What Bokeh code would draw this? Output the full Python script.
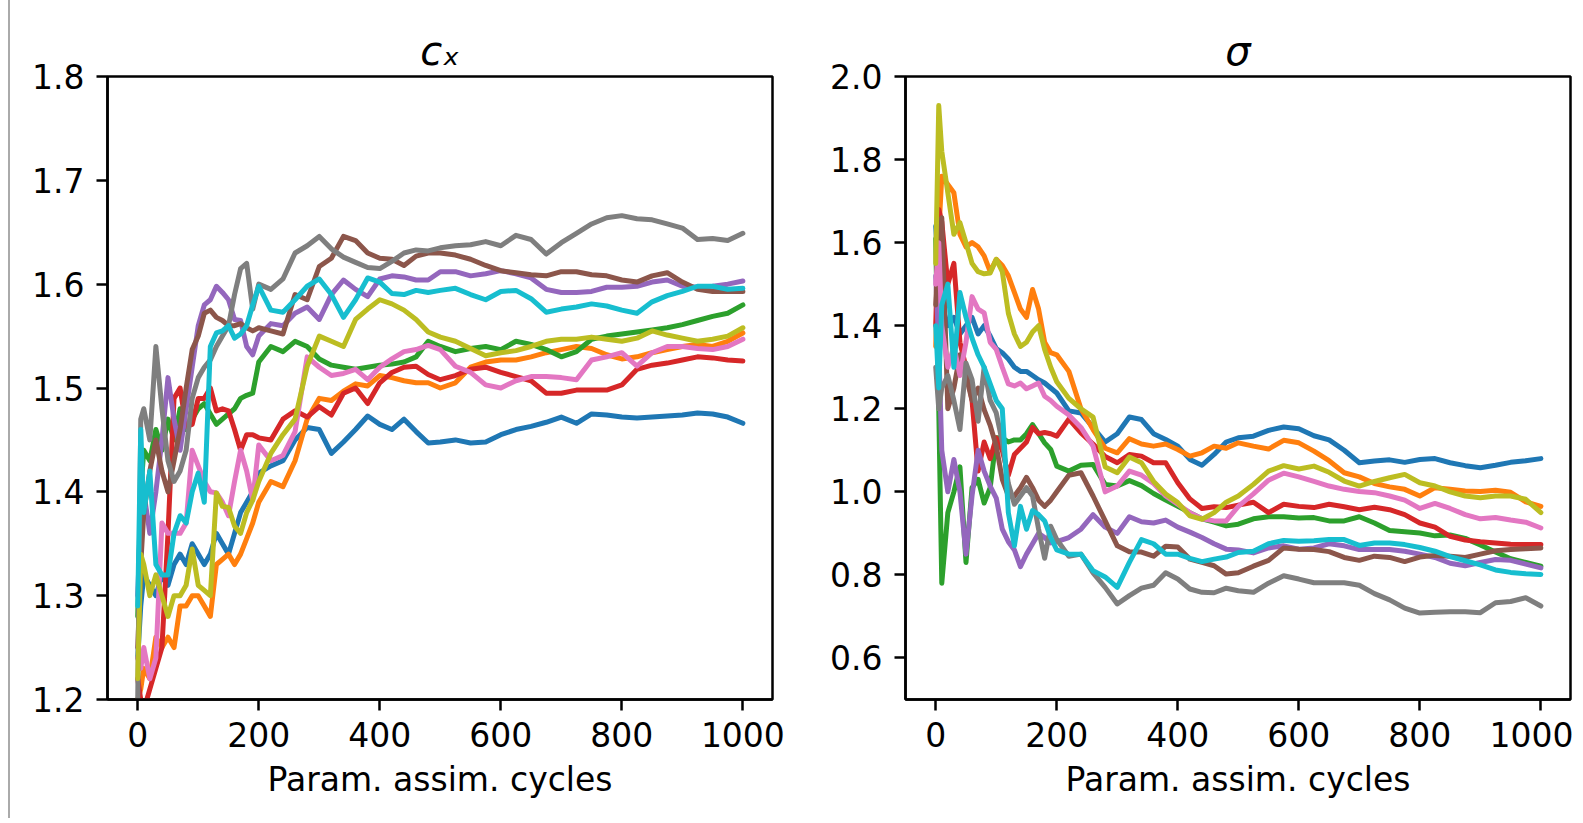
from bokeh.plotting import figure
from bokeh.layouts import row
from bokeh.models import Div, Range1d, FixedTicker, PrintfTickFormatter
from bokeh.embed import file_html
from bokeh.resources import INLINE

# x positions (parameter assimilation cycles) at which values were read
cycles = [0, 5, 10, 20, 30, 40, 50, 60, 70, 80,
          90, 100, 110, 120, 130, 140, 150, 160, 170, 180,
          190, 200, 220, 240, 260, 280, 300, 320, 340, 360,
          380, 400, 420, 440, 460, 480, 500, 525, 550, 575,
          600, 625, 650, 675, 700, 725, 750, 775, 800, 825,
          850, 875, 900, 925, 950, 975, 1000]

# ---------------- c_x panel ----------------
cx_blue = [1.24, 1.29, 1.32, 1.31, 1.30, 1.32, 1.31, 1.33, 1.34, 1.33,
           1.35, 1.34, 1.33, 1.34, 1.36, 1.35, 1.34, 1.36, 1.38, 1.39,
           1.40, 1.418, 1.425, 1.43, 1.45, 1.462, 1.46, 1.437, 1.448, 1.46,
           1.473, 1.465, 1.46, 1.47, 1.458, 1.447, 1.448, 1.45, 1.447, 1.448,
           1.455, 1.46, 1.463, 1.467, 1.472, 1.466, 1.475, 1.474, 1.472, 1.471,
           1.472, 1.473, 1.474, 1.476, 1.475, 1.472, 1.466]
cx_orange = [1.20, 1.21, 1.23, 1.22, 1.26, 1.25, 1.26, 1.25, 1.29, 1.29,
             1.30, 1.30, 1.29, 1.28, 1.33, 1.335, 1.34, 1.33, 1.34, 1.355,
             1.37, 1.39, 1.41, 1.405, 1.43, 1.47, 1.49, 1.488, 1.497, 1.504,
             1.502, 1.512, 1.51, 1.507, 1.505, 1.505, 1.50, 1.505, 1.52, 1.525,
             1.527, 1.527, 1.53, 1.534, 1.537, 1.54, 1.538, 1.532, 1.528, 1.53,
             1.534, 1.537, 1.54, 1.542, 1.54, 1.545, 1.553]
cx_green = [1.28, 1.40, 1.44, 1.43, 1.46, 1.44, 1.47, 1.45, 1.48, 1.46,
            1.47, 1.48, 1.485, 1.475, 1.465, 1.47, 1.475, 1.48, 1.49, 1.493,
            1.495, 1.525, 1.54, 1.535, 1.545, 1.54, 1.528, 1.522, 1.52, 1.518,
            1.52, 1.522, 1.523, 1.525, 1.53, 1.545, 1.54, 1.535, 1.538, 1.54,
            1.537, 1.545, 1.542, 1.537, 1.53, 1.535, 1.547, 1.55, 1.552, 1.554,
            1.556, 1.558, 1.561, 1.565, 1.569, 1.572, 1.58]
cx_red = [1.22, 1.20, 1.19, 1.21, 1.23, 1.25, 1.36, 1.49, 1.50, 1.463,
          1.465, 1.49, 1.49, 1.50, 1.478, 1.48, 1.478, 1.46, 1.44, 1.455,
          1.455, 1.452, 1.45, 1.47, 1.478, 1.472, 1.482, 1.474, 1.495, 1.50,
          1.485, 1.505, 1.515, 1.52, 1.521, 1.513, 1.508, 1.512, 1.518, 1.52,
          1.515, 1.511, 1.507, 1.495, 1.495, 1.498, 1.498, 1.498, 1.503, 1.518,
          1.522, 1.524, 1.527, 1.53, 1.529, 1.527, 1.526]
cx_purple = [1.30, 1.38, 1.40, 1.36, 1.40, 1.45, 1.51, 1.47, 1.44, 1.48,
             1.52, 1.56, 1.58, 1.585, 1.598, 1.592, 1.585, 1.566, 1.565, 1.54,
             1.532, 1.55, 1.562, 1.56, 1.572, 1.578, 1.566, 1.59, 1.604, 1.595,
             1.588, 1.605, 1.608, 1.607, 1.604, 1.604, 1.612, 1.612, 1.608, 1.61,
             1.613, 1.61, 1.606, 1.595, 1.592, 1.592, 1.593, 1.597, 1.597, 1.598,
             1.602, 1.604, 1.598, 1.597, 1.598, 1.60, 1.603]
cx_brown = [1.25, 1.33, 1.38, 1.42, 1.45, 1.42, 1.40, 1.43, 1.46, 1.50,
            1.537, 1.55, 1.572, 1.575, 1.568, 1.565, 1.56, 1.56, 1.562, 1.558,
            1.555, 1.558, 1.555, 1.552, 1.59, 1.585, 1.617, 1.625, 1.646, 1.642,
            1.63, 1.625, 1.624, 1.618, 1.627, 1.63, 1.63, 1.628, 1.624, 1.618,
            1.613, 1.611, 1.609, 1.608, 1.612, 1.612, 1.609, 1.608, 1.604, 1.602,
            1.608, 1.611, 1.602, 1.595, 1.593, 1.593, 1.593]
cx_pink = [1.24, 1.23, 1.25, 1.22, 1.24, 1.37, 1.36, 1.36, 1.36, 1.37,
           1.44, 1.425, 1.41, 1.40, 1.399, 1.39, 1.377, 1.41, 1.44, 1.42,
           1.392, 1.445, 1.43, 1.435, 1.458, 1.53, 1.52, 1.512, 1.514, 1.518,
           1.508, 1.52, 1.528, 1.535, 1.537, 1.541, 1.537, 1.521, 1.515, 1.503,
           1.50, 1.507, 1.511, 1.511, 1.51, 1.508, 1.527, 1.53, 1.534, 1.521,
           1.534, 1.54, 1.54, 1.538, 1.537, 1.54, 1.547]
cx_gray = [1.20, 1.47, 1.48, 1.45, 1.54, 1.48, 1.43, 1.41, 1.42, 1.44,
           1.49, 1.51, 1.52, 1.527, 1.54, 1.55, 1.56, 1.59, 1.615, 1.62,
           1.576, 1.60, 1.595, 1.605, 1.63, 1.637, 1.646, 1.634, 1.626, 1.621,
           1.616, 1.615, 1.622, 1.63, 1.633, 1.632, 1.635, 1.637, 1.638, 1.641,
           1.637, 1.647, 1.643, 1.629, 1.64, 1.649, 1.658, 1.664, 1.666, 1.663,
           1.662, 1.658, 1.654, 1.643, 1.644, 1.642, 1.649]
cx_olive = [1.22, 1.34, 1.33, 1.30, 1.32, 1.30, 1.28, 1.30, 1.30, 1.31,
            1.345, 1.31, 1.305, 1.30, 1.399, 1.386, 1.385, 1.367, 1.36, 1.38,
            1.392, 1.41, 1.437, 1.455, 1.47, 1.521, 1.55, 1.545, 1.54, 1.566,
            1.576, 1.585, 1.581, 1.575, 1.566, 1.554, 1.549, 1.545, 1.538, 1.531,
            1.534, 1.536, 1.54, 1.545, 1.547, 1.547, 1.549, 1.547, 1.545, 1.548,
            1.555, 1.551, 1.548, 1.545, 1.547, 1.55, 1.558]
cx_cyan = [1.29, 1.46, 1.38, 1.42, 1.33, 1.32, 1.32, 1.36, 1.377, 1.37,
           1.40, 1.418, 1.39, 1.54, 1.553, 1.555, 1.56, 1.548, 1.552, 1.56,
           1.58, 1.598, 1.575, 1.573, 1.585, 1.598, 1.605, 1.59, 1.568, 1.585,
           1.606, 1.602, 1.591, 1.59, 1.594, 1.592, 1.594, 1.596, 1.59, 1.585,
           1.593, 1.594, 1.586, 1.573, 1.576, 1.578, 1.581, 1.579, 1.575, 1.572,
           1.583, 1.589, 1.593, 1.598, 1.598, 1.595, 1.596]

# ---------------- sigma panel ----------------
sg_blue = [1.64, 1.50, 1.45, 1.40, 1.42, 1.38, 1.40, 1.42, 1.38, 1.40,
           1.375, 1.345, 1.335, 1.32, 1.30, 1.29, 1.29, 1.28, 1.27, 1.262,
           1.25, 1.238, 1.195, 1.19, 1.155, 1.12, 1.14, 1.18, 1.174, 1.14,
           1.126, 1.11, 1.078, 1.064, 1.09, 1.12, 1.13, 1.134, 1.148, 1.156,
           1.152, 1.135, 1.125, 1.10, 1.07, 1.074, 1.077, 1.071, 1.078, 1.08,
           1.07, 1.063, 1.058, 1.064, 1.071, 1.075, 1.08]
sg_orange = [1.35, 1.62, 1.76, 1.74, 1.72, 1.62, 1.59, 1.60, 1.59, 1.568,
             1.53, 1.56, 1.545, 1.52, 1.48, 1.44, 1.42, 1.487, 1.44, 1.36,
             1.335, 1.33, 1.29, 1.20, 1.15, 1.105, 1.094, 1.128, 1.115, 1.11,
             1.115, 1.102, 1.086, 1.094, 1.11, 1.105, 1.118, 1.11, 1.103, 1.124,
             1.118, 1.098, 1.075, 1.046, 1.036, 1.02, 1.012, 1.006, 0.99, 1.01,
             1.006, 1.002, 1.001, 1.004, 0.999, 0.976, 0.965]
sg_green = [1.61, 1.20, 0.78, 0.95, 1.00, 1.06, 0.83, 1.01, 1.03, 0.973,
            1.01, 1.13, 1.13, 1.12, 1.125, 1.125, 1.14, 1.162, 1.14, 1.118,
            1.102, 1.062, 1.05, 1.064, 1.066, 1.018, 1.014, 1.027, 1.015, 0.996,
            0.98, 0.965, 0.95, 0.935, 0.927, 0.918, 0.922, 0.935, 0.94, 0.94,
            0.937, 0.938, 0.93, 0.93, 0.94, 0.925, 0.907, 0.904, 0.901, 0.894,
            0.896, 0.888, 0.872, 0.855, 0.839, 0.83, 0.821]
sg_red = [1.40, 1.68, 1.65, 1.50, 1.55, 1.36, 1.30, 1.22, 1.05, 1.12,
          1.08, 1.13, 1.10, 1.04, 1.09, 1.105, 1.12, 1.155, 1.14, 1.143,
          1.14, 1.134, 1.175, 1.142, 1.115, 1.085, 1.07, 1.09, 1.086, 1.07,
          1.07, 1.022, 0.983, 0.96, 0.964, 0.962, 0.968, 0.975, 0.95, 0.97,
          0.965, 0.962, 0.97, 0.964, 0.957, 0.963, 0.957, 0.945, 0.925, 0.915,
          0.893, 0.884, 0.88, 0.877, 0.874, 0.873, 0.873]
sg_purple = [1.52, 1.35, 1.10, 1.00, 1.078, 1.00, 0.85, 0.99, 1.10, 1.05,
             1.014, 0.985, 0.91, 0.88, 0.86, 0.82, 0.85, 0.875, 0.90, 0.89,
             0.877, 0.88, 0.89, 0.91, 0.945, 0.915, 0.90, 0.94, 0.928, 0.925,
             0.932, 0.915, 0.903, 0.89, 0.875, 0.862, 0.86, 0.853, 0.865, 0.87,
             0.862, 0.865, 0.875, 0.87, 0.861, 0.861, 0.861, 0.857, 0.85, 0.842,
             0.828, 0.822, 0.83, 0.837, 0.835, 0.826, 0.817]
sg_brown = [1.45, 1.62, 1.66, 1.20, 1.25, 1.33, 1.28, 1.22, 1.25, 1.198,
            1.16, 1.11, 1.03, 0.99, 0.99, 1.01, 1.035, 1.01, 0.98, 0.965,
            0.98, 1.0, 1.04, 1.046, 0.99, 0.93, 0.87, 0.856, 0.855, 0.845,
            0.869, 0.867, 0.838, 0.83, 0.822, 0.802, 0.805, 0.821, 0.835, 0.865,
            0.862, 0.861, 0.856, 0.842, 0.835, 0.845, 0.842, 0.832, 0.843, 0.847,
            0.845, 0.842, 0.85, 0.858, 0.861, 0.863, 0.865]
sg_pink = [1.50, 1.60, 1.40, 1.30, 1.35, 1.28, 1.36, 1.47, 1.44, 1.431,
           1.36, 1.343, 1.30, 1.26, 1.255, 1.262, 1.248, 1.255, 1.262, 1.23,
           1.22, 1.206, 1.185, 1.155, 1.11, 1.0, 1.014, 1.05, 1.04, 1.02,
           0.99, 0.97, 0.95, 0.935, 0.93, 0.93, 0.965, 0.995, 1.028, 1.045,
           1.036, 1.025, 1.014, 1.006, 1.001, 0.998, 0.99, 0.98, 0.96, 0.972,
           0.96, 0.945, 0.935, 0.938, 0.932, 0.927, 0.913]
sg_gray = [1.30, 1.20, 1.25, 1.28, 1.22, 1.15, 1.31, 1.27, 1.17, 1.30,
           1.22, 1.19, 1.12, 1.02, 0.97, 0.99, 1.01, 0.99, 0.91, 0.84,
           0.917, 0.885, 0.845, 0.85, 0.805, 0.77, 0.73, 0.75, 0.768, 0.775,
           0.805, 0.79, 0.766, 0.758, 0.757, 0.768, 0.762, 0.758, 0.78, 0.798,
           0.79, 0.781, 0.781, 0.781, 0.775, 0.755, 0.74, 0.72, 0.708, 0.71,
           0.711, 0.711, 0.709, 0.733, 0.736, 0.745, 0.725]
sg_olive = [1.55, 1.93, 1.82, 1.72, 1.62, 1.648, 1.60, 1.55, 1.53, 1.525,
            1.527, 1.56, 1.53, 1.43, 1.38, 1.35, 1.36, 1.385, 1.40, 1.343,
            1.30, 1.265, 1.225, 1.20, 1.18, 1.06, 1.046, 1.084, 1.07, 1.025,
            0.995, 0.974, 0.942, 0.934, 0.95, 0.975, 0.99, 1.018, 1.05, 1.063,
            1.055, 1.062, 1.047, 1.026, 1.014, 1.025, 1.034, 1.042, 1.022, 1.014,
            1.0, 0.99, 0.986, 0.99, 0.99, 0.982, 0.95]
sg_cyan = [1.40, 1.25, 1.45, 1.50, 1.30, 1.48, 1.42, 1.37, 1.33, 1.30,
           1.26, 1.22, 1.20, 0.95, 0.87, 0.965, 0.91, 0.955, 0.945, 0.93,
           0.89, 0.86, 0.85, 0.85, 0.81, 0.795, 0.77, 0.83, 0.885, 0.875,
           0.85, 0.85, 0.84, 0.832, 0.838, 0.843, 0.854, 0.857, 0.875, 0.883,
           0.881, 0.882, 0.885, 0.885, 0.871, 0.877, 0.877, 0.873, 0.866, 0.857,
           0.844, 0.834, 0.824, 0.812, 0.806, 0.803, 0.801]

x_ticks = [0, 200, 400, 600, 800, 1000]
cx_ticks = [1.2, 1.3, 1.4, 1.5, 1.6, 1.7, 1.8]
sg_ticks = [0.6, 0.8, 1.0, 1.2, 1.4, 1.6, 1.8, 2.0]
x_label = "Param. assim. cycles"
cx_title = "c\u2093"
sg_title = "\u03c3"

COLORS = ["#1f77b4", "#ff7f0e", "#2ca02c", "#d62728", "#9467bd",
          "#8c564b", "#e377c2", "#7f7f7f", "#bcbd22", "#17becf"]

cx_series = [cx_blue, cx_orange, cx_green, cx_red, cx_purple,
             cx_brown, cx_pink, cx_gray, cx_olive, cx_cyan]
sg_series = [sg_blue, sg_orange, sg_green, sg_red, sg_purple,
             sg_brown, sg_pink, sg_gray, sg_olive, sg_cyan]

FONT = "DejaVu Sans"
FW, FH = 665, 623


def make_panel(series, ylo, yhi, yticks, title, left_border, right_border):
    p = figure(frame_width=FW, frame_height=FH,
               x_range=Range1d(-49.95, 1048.95), y_range=Range1d(ylo, yhi),
               output_backend="svg", toolbar_location=None,
               min_border_left=left_border, min_border_right=right_border,
               min_border_top=76, min_border_bottom=108,
               background_fill_color="white", border_fill_color="white",
               outline_line_color="black", outline_line_width=2.5)
    p.grid.visible = False
    for vals, col in zip(series, COLORS):
        p.line(cycles, vals, line_color=col, line_width=5,
               line_join="round", line_cap="round")
    for ax in (p.xaxis[0], p.yaxis[0]):
        ax.axis_line_color = "black"
        ax.axis_line_width = 2.5
        ax.major_tick_line_color = "black"
        ax.major_tick_line_width = 2.5
        ax.major_tick_out = 11
        ax.major_tick_in = 0
        ax.minor_tick_line_color = None
        ax.major_label_text_font = FONT
        ax.major_label_text_font_size = "33px"
        ax.major_label_text_color = "black"
    p.xaxis.ticker = FixedTicker(ticks=x_ticks)
    p.yaxis.ticker = FixedTicker(ticks=yticks)
    p.yaxis.formatter = PrintfTickFormatter(format="%.1f")
    p.xaxis.major_label_standoff = 11
    p.yaxis.major_label_standoff = 12
    p.xaxis.axis_label = x_label
    p.xaxis.axis_label_text_font = FONT
    p.xaxis.axis_label_text_font_size = "33px"
    p.xaxis.axis_label_text_font_style = "normal"
    p.xaxis.axis_label_text_color = "black"
    p.xaxis.axis_label_standoff = 10
    p.title.text = title
    p.title.align = "center"
    p.title.text_font = FONT
    p.title.text_font_style = "italic"
    p.title.text_font_size = "40px"
    p.title.text_color = "black"
    p.title.standoff = 6
    return p


p1 = make_panel(cx_series, 1.2, 1.8, cx_ticks, cx_title, 96, 40)
p2 = make_panel(sg_series, 0.5, 2.0, sg_ticks, sg_title, 93, 3)

edge = Div(text="", width=3, height=818, margin=(0, 0, 0, 8),
           styles={"border-left": "2px solid #aaaaaa", "box-sizing": "border-box"})

layout = row(edge, p1, p2, spacing=0)
open("out.html", "w").write(file_html(layout, INLINE))
